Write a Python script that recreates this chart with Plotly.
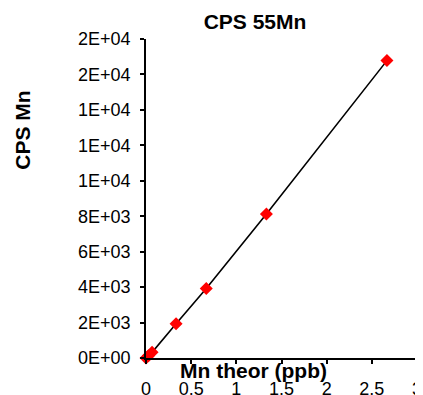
import plotly.graph_objects as go

# Data
mn_theor_ppb = [0, 0.027, 0.067, 0.333, 0.667, 1.333, 2.667]
cps_mn = [0, 130, 320, 1930, 3920, 8120, 16780]

x_tick_vals = [0, 0.5, 1, 1.5, 2, 2.5, 3]
x_tick_text = ["0", "0.5", "1", "1.5", "2", "2.5", "3"]
y_tick_vals = [0, 2000, 4000, 6000, 8000, 10000, 12000, 14000, 16000, 18000]
y_tick_text = ["0E+00", "2E+03", "4E+03", "6E+03", "8E+03",
               "1E+04", "1E+04", "1E+04", "2E+04", "2E+04"]

# page has an 8px body margin, so the figure starts at (8, 8)
OFF = 8
W, H = 423 - OFF, 395 - OFF
L = 145.5 - OFF
R = W - (417 - OFF)
T = 39 - OFF
B = H - (358.3 - OFF)

FONT = "Liberation Sans, Arial, sans-serif"
BOLD = 21
TICK = 18

fig = go.Figure()
fig.add_trace(go.Scatter(
    x=mn_theor_ppb, y=cps_mn, mode="lines+markers",
    line=dict(color="black", width=1.6),
    marker=dict(symbol="diamond", size=10, color="red",
                line=dict(width=0)),
    cliponaxis=False, showlegend=False,
))

pw = W - L - R
ph = H - T - B


def paper_x(page_x):
    return (page_x - OFF - L) / pw


def paper_y(page_y):
    return 1 - (page_y - OFF - T) / ph


fig.update_layout(
    width=W, height=H,
    margin=dict(l=L, r=R, t=T, b=B, pad=0),
    paper_bgcolor="white", plot_bgcolor="white",
    font=dict(family=FONT, color="black", size=TICK),
    title=dict(text="<b>CPS 55Mn</b>", font=dict(size=BOLD, family=FONT),
               x=(255 - OFF) / W, xref="container", xanchor="center",
               y=1 - (22 - OFF) / H, yref="container", yanchor="middle"),
    xaxis=dict(range=[0, 3], tickvals=x_tick_vals, ticktext=x_tick_text,
               showgrid=False, zeroline=False, showline=True,
               linecolor="black", linewidth=1.8, ticks="outside",
               ticklen=4, tickwidth=1.6, tickcolor="black",
               ticklabelstandoff=9, automargin=False,
               tickfont=dict(size=TICK)),
    yaxis=dict(range=[0, 18000], tickvals=y_tick_vals, ticktext=y_tick_text,
               showgrid=False, zeroline=False, showline=True,
               linecolor="black", linewidth=1.8, ticks="outside",
               ticklen=4, tickwidth=1.6, tickcolor="black",
               ticklabelstandoff=6, automargin=False,
               tickfont=dict(size=TICK)),
    annotations=[
        dict(text="<b>Mn theor (ppb)</b>", x=paper_x(253.5), y=paper_y(371),
             xref="paper", yref="paper", showarrow=False,
             xanchor="center", yanchor="middle",
             font=dict(size=BOLD, family=FONT)),
        dict(text="<b>CPS Mn</b>", x=paper_x(22), y=paper_y(130),
             xref="paper", yref="paper", showarrow=False, textangle=-90,
             xanchor="center", yanchor="middle",
             font=dict(size=BOLD, family=FONT)),
    ],
)

fig.write_html("out.html")
